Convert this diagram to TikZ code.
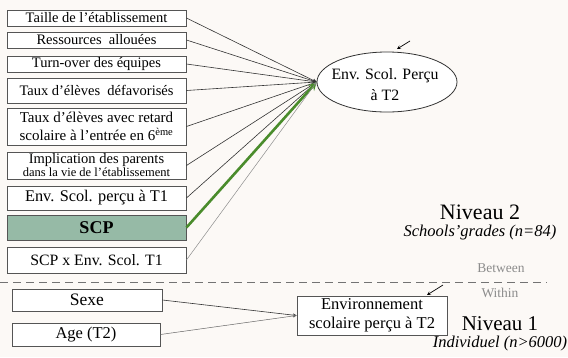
\documentclass[tikz,border=0pt]{standalone}
\usepackage{fontspec}
\setmainfont{Liberation Serif}
\usetikzlibrary{arrows, shapes.geometric}
\definecolor{paper}{RGB}{252,249,246}
\definecolor{scpfill}{RGB}{150,186,166}
\definecolor{scpline}{RGB}{74,140,44}
\definecolor{boxline}{RGB}{85,85,85}
\newcommand{\fs}[2]{\fontsize{#1}{#2}\selectfont}

\begin{document}
\begin{tikzpicture}[
        >=stealth,
        x=1pt,
        y=-1pt,
        every node/.style={font=\fs{14.5}{15}, inner sep=0pt},
        pred/.style={draw=boxline, line width=0.9pt, fill=white, align=center,
                minimum width=179pt},
        lowbox/.style={draw=boxline, line width=0.9pt, fill=white, align=center,
                font=\fs{16.5}{19}},
        link/.style={->, line width=0.6pt, black!80},
        resid/.style={->, line width=0.7pt}
    ]
    \useasboundingbox[fill=paper] (0,0) rectangle (568,357);

    % niveau 2
    \node[pred, minimum height=16pt] (taille) at (96.5,18) {Taille de l'établissement};
    \node[pred, minimum height=16pt] (ress) at (96.5,40) {Ressources\ \ allouées};
    \node[pred, minimum height=16pt] (turn) at (96.5,64) {Turn-over des équipes};
    \node[pred, minimum height=25pt] (defav) at (96.5,90.5) {Taux d'élèves\ \ défavorisés};
    \node[pred, minimum height=37pt, font=\fs{15}{18}] (retard) at (96.5,126.5)
        {Taux d'élèves avec retard\\ scolaire à l'entrée en 6\textsuperscript{ème}};
    \node[pred, minimum height=27pt, font=\fs{14.5}{13}] (parents) at (96.5,165.5)
        {Implication des parents\\ {\fs{12.5}{13}dans la vie de l'établissement}};
    \node[pred, minimum height=24pt, font=\fs{16.3}{17}] (envtun) at (96.5,198) {Env. Scol. perçu à T1};
    \node[pred, minimum height=25pt, fill=scpfill, font=\fs{18}{19}\bfseries]
        (scp) at (96.5,227.5) {SCP};
    \node[pred, minimum height=26pt, font=\fs{15.8}{17}] (inter) at (96.5,260) {SCP x Env. Scol. T1};

    \node[ellipse, draw=black!80, line width=0.8pt, fill=white, minimum width=140pt,
        minimum height=60pt] (envdeux) at (387,82) {};
    \node[align=center, font=\fs{15.8}{21}] (envdeuxtxt) at (385,85)
        {Env. Scol. Perçu\\ à T2};

    \foreach \src in {taille, ress, turn, defav, retard, parents, envtun}
        \draw[link] (\src.east) -- (envdeux.west);
    \draw[->, line width=2.6pt, scpline] (scp.east) -- (envdeux.west);
    \draw[->, line width=0.5pt, black!45] (inter.east) -- (envdeux.west);

    \coordinate (resdeux) at (410,41);
    \draw[resid] (resdeux) -- ++(-13,8);

    \node[font=\fs{22}{23}] (niv2) at (480,212) {Niveau 2};
    \node[font=\fs{16.5}{17}\itshape] (ecoles) at (480,233) {Schools'grades (n=84)};

    % separation
    \coordinate (sepL) at (0,282);
    \coordinate (sepR) at (547,282);
    \draw[black!55, line width=0.9pt, dash pattern=on 8pt off 5pt] (sepL) -- (sepR);
    \node[black!45, font=\fs{13.5}{14}] (between) at (501,268) {Between};
    \node[black!45, font=\fs{13.5}{14}] (within) at (500,293) {Within};

    % niveau 1
    \node[lowbox, minimum width=150pt, minimum height=22pt, font=\fs{17.5}{19}] (sexe) at (87,300) {Sexe};
    \node[lowbox, minimum width=148pt, minimum height=23pt] (age) at (86,334.5) {Age (T2)};
    \node[lowbox, minimum width=150pt, minimum height=39pt] (envun) at (372,315.5)
        {Environnement\\ scolaire perçu à T2};

    \draw[link] (sexe.east) -- (envun.west);
    \draw[link, black!60, line width=0.5pt] (age.east) -- (envun.west);

    \coordinate (resun) at (443,285);
    \draw[resid] (resun) -- ++(-16,10);

    \node[font=\fs{21}{22}] (niv1) at (500,324) {Niveau 1};
    \node[font=\fs{16.5}{17}\itshape] (indiv) at (500,344) {Individuel (n>6000)};
\end{tikzpicture}
\end{document}
